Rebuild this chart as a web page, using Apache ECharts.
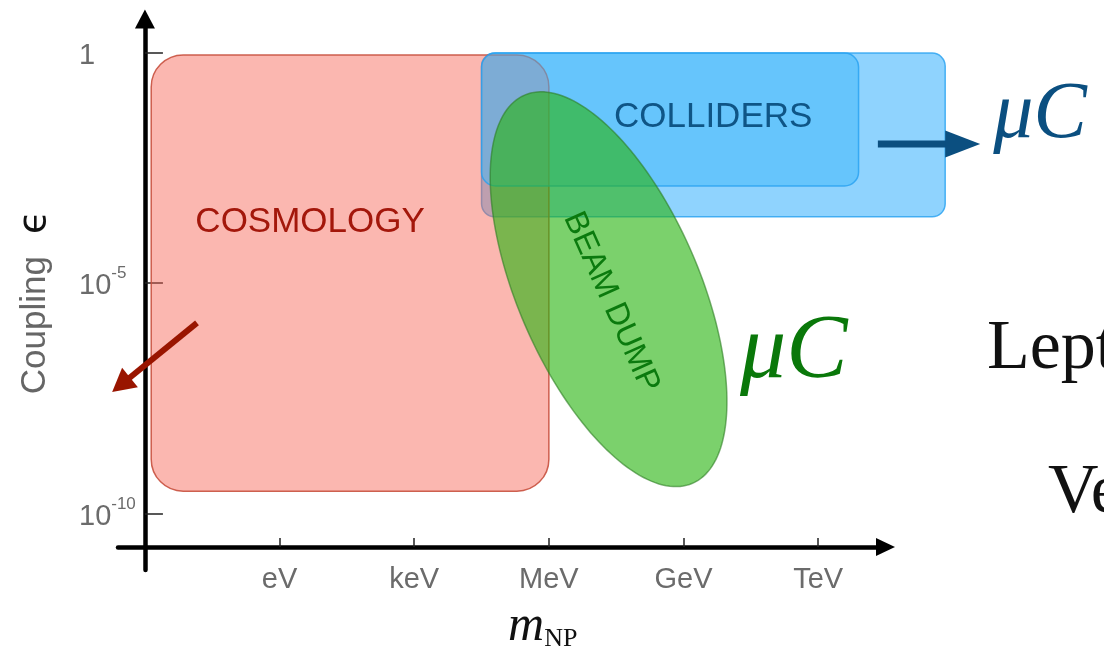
<!DOCTYPE html>
<html>
<head>
<meta charset="utf-8">
<title>Coupling vs. mass reach</title>
<script src="https://cdn.jsdelivr.net/npm/echarts@6/dist/echarts.min.js"></script>
<style>
  html, body { margin: 0; padding: 0; background: #fff; }
  #chart { width: 1104px; height: 652px; }
</style>
</head>
<body>
<div id="chart"></div>
<script>
// ---- data (log10 of mass in eV, log10 of coupling) ----
const massTickLog = [0, 3, 6, 9, 12];
const massTickNames = ['eV', 'keV', 'MeV', 'GeV', 'TeV'];
const epsTickLog = [0, -5, -10];

// rounded boxes, in drawing order
const boxNames = ['colliders-reach', 'cosmology', 'colliders'];
const boxLogMassLo = [4.50, -2.86, 4.50];
const boxLogMassHi = [14.83, 6.00, 12.90];
const boxLogEpsLo = [-3.56, -9.51, -2.89];
const boxLogEpsHi = [-0.01, -0.05, -0.01];

// beam-dump ellipse: centre and ends of two conjugate semi-axes
const beamDumpCenter = [7.33, -5.13];
const beamDumpMajorEnd = [9.20, -9.34];
const beamDumpMinorEnd = [9.19, -4.35];

// region labels
const regionLabels = ['COSMOLOGY', 'COLLIDERS', 'BEAM DUMP'];
const regionLabelLogMass = [0.68, 9.66, 7.39];
const regionLabelLogEps = [-3.67, -1.40, -5.41];

// arrows (from -> to)
const arrowFromLogMass = [-1.84, 13.33];
const arrowFromLogEps = [-5.86, -1.98];
const arrowToLogMass = [-3.73, 15.61];
const arrowToLogEps = [-7.36, -1.98];

// side notes
const noteText = ['\u03bcC', '\u03bcC', 'Lepton', 'Very'];
const noteLogMass = [15.90, 10.26, 15.76, 17.12];
const noteLogEps = [-1.37, -6.50, -6.45, -9.56];

// ---- axis placement: axes cross at 1 meV and just below 1e-10 ----
const X_SHIFT = 3;
const Y_SHIFT = 10.72;
const toU = m => m + X_SHIFT;
const toV = e => e + Y_SHIFT;
const near = (a, b) => Math.abs(a - b) < 1e-6;

const SANS = 'Liberation Sans';
const SERIF = 'Liberation Serif';

const boxStyles = {
  'colliders-reach': { fill: 'rgba(51,175,253,0.55)', stroke: 'rgba(38,160,240,0.8)', lineWidth: 1.5, r: 13 },
  'cosmology': { fill: 'rgba(246,97,81,0.455)', stroke: 'rgba(200,80,62,0.9)', lineWidth: 1.5, r: 32 },
  'colliders': { fill: 'rgba(63,184,250,0.51)', stroke: 'rgba(38,160,240,0.8)', lineWidth: 1.5, r: 14 }
};
const labelStyles = [
  { fill: '#a3170b', fontSize: 35, rotation: 0 },
  { fill: '#0f5586', fontSize: 35, rotation: 0 },
  { fill: '#0b7a0e', fontSize: 32, rotation: -66 * Math.PI / 180 }
];
const arrowStyles = [
  { color: '#991500', width: 6, head: 23, half: 12.5 },
  { color: '#0b4f80', width: 7, head: 35, half: 13.5 }
];
const noteStyles = [
  { fill: '#0b4f80', fontSize: 80, fontFamily: SERIF, fontStyle: 'italic' },
  { fill: '#0a780a', fontSize: 92, fontFamily: SERIF, fontStyle: 'italic' },
  { fill: '#111', fontSize: 70, fontFamily: SERIF, fontStyle: 'normal' },
  { fill: '#111', fontSize: 70, fontFamily: SERIF, fontStyle: 'normal' }
];

const boxData = boxNames.map((n, i) => [toU(boxLogMassLo[i]), toU(boxLogMassHi[i]), toV(boxLogEpsLo[i]), toV(boxLogEpsHi[i]), i]);
const ellipseData = [[toU(beamDumpCenter[0]), toV(beamDumpCenter[1]), toU(beamDumpMajorEnd[0]), toV(beamDumpMajorEnd[1]), toU(beamDumpMinorEnd[0]), toV(beamDumpMinorEnd[1])]];
const labelData = regionLabels.map((t, i) => [toU(regionLabelLogMass[i]), toV(regionLabelLogEps[i]), i]);
const arrowData = arrowFromLogMass.map((m, i) => [toU(m), toV(arrowFromLogEps[i]), toU(arrowToLogMass[i]), toV(arrowToLogEps[i]), i]);
const noteData = noteText.map((t, i) => [toU(noteLogMass[i]), toV(noteLogEps[i]), i]);

function renderBox(params, api) {
  const i = api.value(4);
  const s = boxStyles[boxNames[i]];
  const tl = api.coord([api.value(0), api.value(3)]);
  const br = api.coord([api.value(1), api.value(2)]);
  return {
    type: 'rect',
    shape: { x: tl[0], y: tl[1], width: br[0] - tl[0], height: br[1] - tl[1], r: s.r },
    style: { fill: s.fill, stroke: s.stroke, lineWidth: s.lineWidth }
  };
}

function renderEllipse(params, api) {
  const c = api.coord([api.value(0), api.value(1)]);
  const a = api.coord([api.value(2), api.value(3)]);
  const b = api.coord([api.value(4), api.value(5)]);
  const pts = [];
  const N = 180;
  for (let k = 0; k < N; k++) {
    const t = 2 * Math.PI * k / N;
    pts.push([
      c[0] + (a[0] - c[0]) * Math.cos(t) + (b[0] - c[0]) * Math.sin(t),
      c[1] + (a[1] - c[1]) * Math.cos(t) + (b[1] - c[1]) * Math.sin(t)
    ]);
  }
  return {
    type: 'polygon',
    shape: { points: pts },
    style: { fill: 'rgba(40,180,16,0.614)', stroke: 'rgba(45,125,35,0.6)', lineWidth: 1.5 }
  };
}

function renderLabel(params, api) {
  const i = api.value(2);
  const s = labelStyles[i];
  const p = api.coord([api.value(0), api.value(1)]);
  return {
    type: 'text',
    x: p[0], y: p[1], rotation: s.rotation,
    style: {
      text: regionLabels[i], fill: s.fill, fontSize: s.fontSize, fontFamily: SANS,
      align: 'center', verticalAlign: 'middle'
    }
  };
}

function renderArrow(params, api) {
  const i = api.value(4);
  const s = arrowStyles[i];
  const p0 = api.coord([api.value(0), api.value(1)]);
  const p1 = api.coord([api.value(2), api.value(3)]);
  const dx = p1[0] - p0[0], dy = p1[1] - p0[1];
  const len = Math.hypot(dx, dy);
  const ux = dx / len, uy = dy / len;
  const bx = p1[0] - ux * s.head, by = p1[1] - uy * s.head;
  return {
    type: 'group',
    children: [
      {
        type: 'line',
        shape: { x1: p0[0], y1: p0[1], x2: bx + ux * 2, y2: by + uy * 2 },
        style: { stroke: s.color, lineWidth: s.width }
      },
      {
        type: 'polygon',
        shape: { points: [p1, [bx - uy * s.half, by + ux * s.half], [bx + uy * s.half, by - ux * s.half]] },
        style: { fill: s.color }
      }
    ]
  };
}

function renderNote(params, api) {
  const i = api.value(2);
  const s = noteStyles[i];
  const p = api.coord([api.value(0), api.value(1)]);
  return {
    type: 'text',
    x: p[0], y: p[1],
    style: {
      text: noteText[i], fill: s.fill, fontSize: s.fontSize, fontFamily: s.fontFamily,
      fontStyle: s.fontStyle, align: 'left', verticalAlign: 'middle'
    }
  };
}

const chart = echarts.init(document.getElementById('chart'), null, { renderer: 'canvas' });

const customBase = { type: 'custom', coordinateSystem: 'cartesian2d', silent: true, clip: false, animation: false };

chart.setOption({
  backgroundColor: '#ffffff',
  animation: false,
  grid: { left: 118, top: 19, width: 767.5, height: 551, containLabel: false, outerBoundsMode: 'none' },
  xAxis: {
    type: 'value', min: -0.6, max: 16.5,
    axisLine: {
      onZero: true, symbol: ['none', 'triangle'], symbolSize: [18, 19],
      lineStyle: { color: '#000', width: 4.5 }
    },
    axisTick: {
      inside: true, length: 9, customValues: massTickLog.map(toU),
      lineStyle: { color: '#222', width: 1.5 }
    },
    axisLabel: {
      customValues: massTickLog.map(toU),
      formatter: v => massTickNames[massTickLog.findIndex(t => near(toU(t), v))],
      margin: -5, fontSize: 29, color: '#6b6b6b', fontFamily: SANS
    },
    splitLine: { show: false },
    name: '{m|m}{s|NP}',
    nameLocation: 'middle',
    nameGap: 32,
    nameMoveOverlap: false,
    nameTextStyle: {
      padding: [0, 0, 0, 82],
      rich: {
        m: { fontFamily: SERIF, fontStyle: 'italic', fontSize: 50, lineHeight: 50, color: '#111' },
        s: { fontFamily: SERIF, fontSize: 26, lineHeight: 26, color: '#111', verticalAlign: 'bottom' }
      }
    }
  },
  yAxis: {
    type: 'value', min: -0.5, max: 11.45,
    axisLine: {
      onZero: true, symbol: ['none', 'triangle'], symbolSize: [20, 19],
      lineStyle: { color: '#000', width: 4.5 }
    },
    axisTick: {
      inside: true, length: 18, customValues: epsTickLog.map(toV),
      lineStyle: { color: '#222', width: 1.5 }
    },
    axisLabel: {
      customValues: epsTickLog.map(toV),
      formatter: v => {
        const e = epsTickLog[epsTickLog.findIndex(t => near(toV(t), v))];
        return e === 0 ? '{b|1}' : '{b|10}{s|' + e + '}';
      },
      margin: 39, align: 'left',
      rich: {
        b: { fontSize: 29, lineHeight: 62, padding: [6, 0, 0, 0], color: '#6b6b6b', fontFamily: SANS },
        s: { fontSize: 17, lineHeight: 17, padding: [13, 0, 0, 0], verticalAlign: 'top', color: '#6b6b6b', fontFamily: SANS }
      }
    },
    splitLine: { show: false },
    name: '{c|Coupling}{e|\u03f5}',
    nameLocation: 'middle',
    nameRotate: 90,
    nameGap: 64,
    nameMoveOverlap: false,
    nameTextStyle: {
      padding: [0, 16, 0, 0],
      rich: {
        c: { fontSize: 35, color: '#666', fontFamily: SANS },
        e: { fontSize: 38, color: '#111', fontFamily: 'DejaVu Sans', padding: [0, 0, 0, 22] }
      }
    }
  },
  series: [
    Object.assign({}, customBase, { z: 2, renderItem: renderBox, data: boxData }),
    Object.assign({}, customBase, { z: 3, renderItem: renderEllipse, data: ellipseData }),
    Object.assign({}, customBase, { z: 4, renderItem: renderLabel, data: labelData }),
    Object.assign({}, customBase, { z: 4, renderItem: renderArrow, data: arrowData }),
    Object.assign({}, customBase, { z: 4, renderItem: renderNote, data: noteData })
  ]
});
</script>
</body>
</html>
